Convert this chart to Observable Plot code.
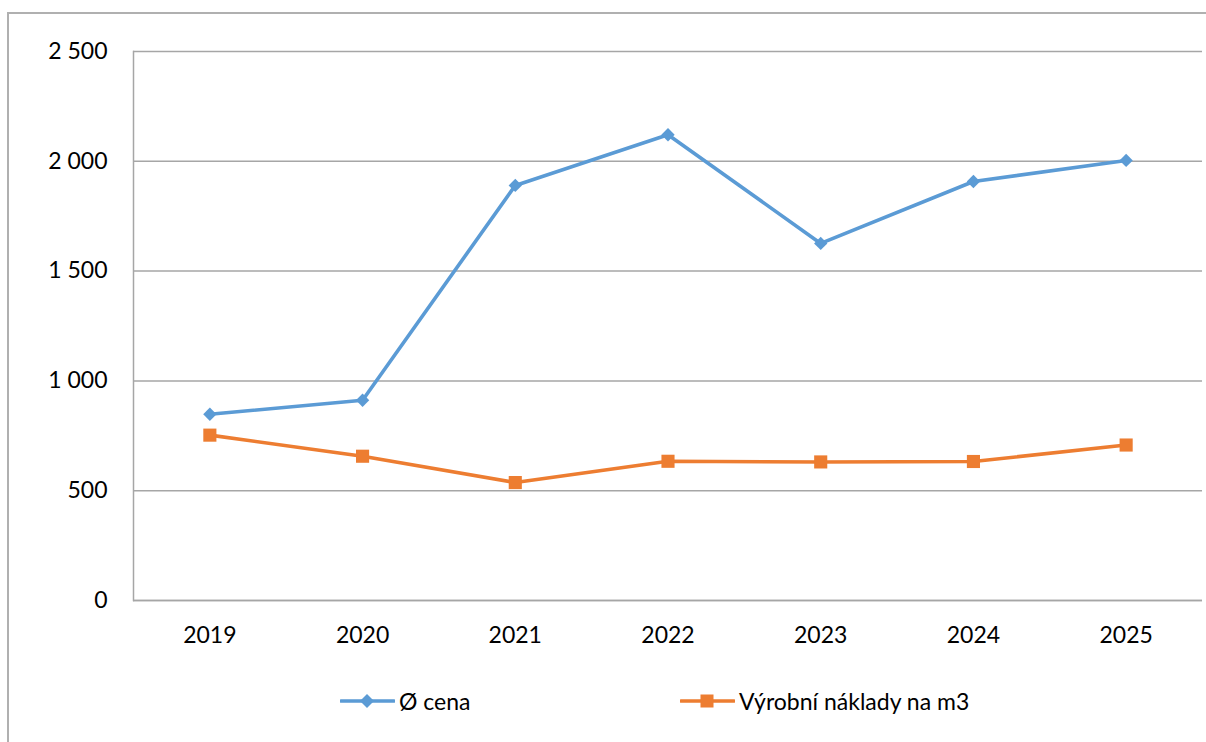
<!DOCTYPE html>
<html>
<head>
<meta charset="utf-8">
<script src="https://cdn.jsdelivr.net/npm/d3@7"></script>
<script src="https://cdn.jsdelivr.net/npm/@observablehq/plot@0.6"></script>
<style>
  html, body { margin: 0; padding: 0; background: #fff; overflow: hidden; }
  body { width: 1206px; height: 742px; position: relative; font-family: Lato, "Open Sans", sans-serif; }
  #frame { position: absolute; left: 7px; top: 12px; width: 1300px; height: 800px; border: 2px solid #b0b0b0; box-sizing: border-box; }
  #chart { position: absolute; left: 0; top: 0; }
  #legend { position: absolute; left: 0; top: 683px; width: 1206px; height: 36px; }
  .item { position: absolute; top: 0; height: 36px; display: flex; align-items: center; font-size: 23px; color: #000; }
  .item svg { margin-right: 4px; }
</style>
</head>
<body>
<div id="frame"></div>
<div id="chart"></div>
<div id="legend"></div>
<script>
const years = ["2019", "2020", "2021", "2022", "2023", "2024", "2025"];
const cena = [848, 912, 1890, 2121, 1626, 1908, 2004];
const naklady = [753, 657, 537, 634, 631, 633, 708];
const yTicks = [0, 500, 1000, 1500, 2000, 2500];
const seriesNames = ["Ø cena", "Výrobní náklady na m3"];
const seriesColors = ["#5b9bd5", "#ed7d31"];

const fmt = d3.formatLocale({decimal: ",", thousands: " ", grouping: [3], currency: ["", ""]}).format(",d");

const rows = [];
years.forEach((y, i) => {
  rows.push({year: y, value: cena[i], series: seriesNames[0]});
  rows.push({year: y, value: naklady[i], series: seriesNames[1]});
});

const chart = Plot.plot({
  width: 1206,
  height: 680,
  marginLeft: 133,
  marginRight: 4,
  marginTop: 51,
  marginBottom: 80,
  style: {fontFamily: "Lato, 'Open Sans', sans-serif", fontSize: "23px", color: "#000", background: "transparent"},
  x: {type: "point", domain: years, padding: 0.5, round: false, label: null},
  y: {domain: [0, 2500], label: null},
  color: {domain: seriesNames, range: seriesColors},
  marks: [
    Plot.gridY(yTicks, {stroke: "#a6a6a6", strokeOpacity: 1, strokeWidth: 1.5}),
    Plot.frame({anchor: "left", stroke: "#a6a6a6", strokeWidth: 1.5}),
    Plot.ruleY([0], {stroke: "#a6a6a6", strokeWidth: 1.5}),
    Plot.axisY(yTicks, {tickSize: 0, tickPadding: 26, tickFormat: fmt, fill: "#000", fontSize: 23}),
    Plot.axisX({tickSize: 0, tickPadding: 26, fill: "#000", fontSize: 23}),
    Plot.line(rows, {x: "year", y: "value", z: "series", stroke: "series", strokeWidth: 3.6}),
    Plot.dot(rows.filter(d => d.series === seriesNames[0]), {x: "year", y: "value", symbol: "diamond2", r: 6, fill: seriesColors[0], stroke: "none"}),
    Plot.dot(rows.filter(d => d.series === seriesNames[1]), {x: "year", y: "value", symbol: "square", r: 7.4, fill: seriesColors[1], stroke: "none"})
  ]
});
document.getElementById("chart").appendChild(chart);

// Legend
const legend = document.getElementById("legend");
const lefts = [340, 680];
seriesNames.forEach((name, i) => {
  const item = document.createElement("div");
  item.className = "item";
  item.style.left = lefts[i] + "px";
  const marker = i === 0
    ? '<polygon points="27,11 34,18 27,25 20,18" fill="' + seriesColors[i] + '"/>'
    : '<rect x="20.5" y="11.5" width="13" height="13" fill="' + seriesColors[i] + '"/>';
  item.innerHTML = '<svg width="55" height="36"><line x1="1" x2="54" y1="18" y2="18" stroke="' + seriesColors[i] + '" stroke-width="3.6" stroke-linecap="round"/>' + marker + '</svg><span>' + name + '</span>';
  legend.appendChild(item);
});
</script>
</body>
</html>
